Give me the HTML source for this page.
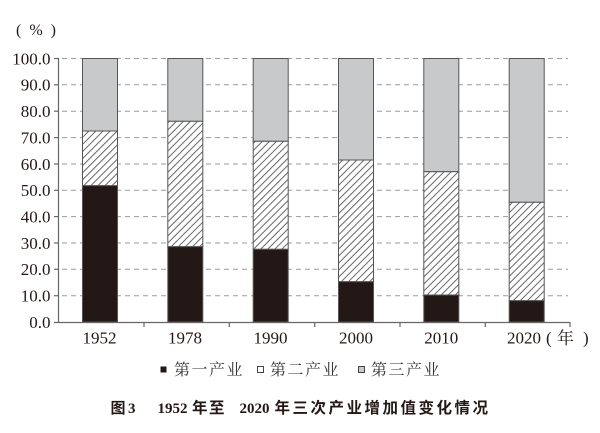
<!DOCTYPE html>
<html>
<head>
<meta charset="utf-8">
<style>
html,body{margin:0;padding:0;background:#fff;}
body{width:600px;height:433px;overflow:hidden;}
svg{display:block;}
</style>
</head>
<body>
<svg width="600" height="433" viewBox="0 0 600 433" xmlns="http://www.w3.org/2000/svg">
<defs>
<pattern id="hatch" patternUnits="userSpaceOnUse" width="5" height="10" patternTransform="rotate(45)">
<rect width="5" height="10" fill="#fff"/>
<line x1="0.5" y1="0" x2="0.5" y2="10" stroke="#555" stroke-width="0.9"/>
</pattern>
</defs>
<rect width="600" height="433" fill="#fff"/>

<!-- gridlines -->
<g stroke="#9a9a9a" stroke-width="1" stroke-dasharray="5,4" fill="none">
<line x1="62" y1="58.5" x2="568" y2="58.5"/>
<line x1="62" y1="84.8" x2="568" y2="84.8"/>
<line x1="62" y1="111.2" x2="568" y2="111.2"/>
<line x1="62" y1="137.6" x2="568" y2="137.6"/>
<line x1="62" y1="164" x2="568" y2="164"/>
<line x1="62" y1="190.3" x2="568" y2="190.3"/>
<line x1="62" y1="216.6" x2="568" y2="216.6"/>
<line x1="62" y1="243" x2="568" y2="243"/>
<line x1="62" y1="269.3" x2="568" y2="269.3"/>
<line x1="62" y1="295.7" x2="568" y2="295.7"/>
</g>

<!-- bars -->
<g stroke="#555" stroke-width="1">
<rect x="82.5" y="58.5" width="35" height="72.5" fill="#c8c9ca"/>
<rect x="82.5" y="131" width="35" height="54.7" fill="url(#hatch)"/>
<rect x="82.5" y="185.7" width="35" height="136.3" fill="#231815"/>
<rect x="167.8" y="58.5" width="35" height="62.8" fill="#c8c9ca"/>
<rect x="167.8" y="121.3" width="35" height="125.4" fill="url(#hatch)"/>
<rect x="167.8" y="246.7" width="35" height="75.3" fill="#231815"/>
<rect x="253.2" y="58.5" width="35" height="82.8" fill="#c8c9ca"/>
<rect x="253.2" y="141.3" width="35" height="108" fill="url(#hatch)"/>
<rect x="253.2" y="249.3" width="35" height="72.7" fill="#231815"/>
<rect x="338.5" y="58.5" width="35" height="101.5" fill="#c8c9ca"/>
<rect x="338.5" y="160" width="35" height="121.7" fill="url(#hatch)"/>
<rect x="338.5" y="281.7" width="35" height="40.3" fill="#231815"/>
<rect x="423.8" y="58.5" width="35" height="113.2" fill="#c8c9ca"/>
<rect x="423.8" y="171.7" width="35" height="123.3" fill="url(#hatch)"/>
<rect x="423.8" y="295" width="35" height="27" fill="#231815"/>
<rect x="509.2" y="58.5" width="35" height="143.8" fill="#c8c9ca"/>
<rect x="509.2" y="202.3" width="35" height="98.4" fill="url(#hatch)"/>
<rect x="509.2" y="300.7" width="35" height="21.3" fill="#231815"/>
</g>

<!-- axes -->
<g stroke="#666" stroke-width="1.2" fill="none">
<line x1="58.5" y1="58" x2="58.5" y2="322.5"/>
<line x1="54" y1="322.5" x2="570.5" y2="322.5"/>
<line x1="54" y1="58.5" x2="58.5" y2="58.5"/>
<line x1="54" y1="84.8" x2="58.5" y2="84.8"/>
<line x1="54" y1="111.2" x2="58.5" y2="111.2"/>
<line x1="54" y1="137.6" x2="58.5" y2="137.6"/>
<line x1="54" y1="164" x2="58.5" y2="164"/>
<line x1="54" y1="190.3" x2="58.5" y2="190.3"/>
<line x1="54" y1="216.6" x2="58.5" y2="216.6"/>
<line x1="54" y1="243" x2="58.5" y2="243"/>
<line x1="54" y1="269.3" x2="58.5" y2="269.3"/>
<line x1="54" y1="295.7" x2="58.5" y2="295.7"/>
<line x1="144" y1="322.5" x2="144" y2="327"/>
<line x1="229.3" y1="322.5" x2="229.3" y2="327"/>
<line x1="314.7" y1="322.5" x2="314.7" y2="327"/>
<line x1="400" y1="322.5" x2="400" y2="327"/>
<line x1="485.3" y1="322.5" x2="485.3" y2="327"/>
<line x1="570" y1="322.5" x2="570" y2="327"/>
</g>

<!-- y labels -->
<g font-family="'Liberation Serif', serif" font-size="17" fill="#231815" text-anchor="end">
<text x="50.5" y="64.3">100.0</text>
<text x="50.5" y="90.6">90.0</text>
<text x="50.5" y="117">80.0</text>
<text x="50.5" y="143.4">70.0</text>
<text x="50.5" y="169.8">60.0</text>
<text x="50.5" y="196.1">50.0</text>
<text x="50.5" y="222.4">40.0</text>
<text x="50.5" y="248.8">30.0</text>
<text x="50.5" y="275.1">20.0</text>
<text x="50.5" y="301.5">10.0</text>
<text x="50.5" y="327.8">0.0</text>
</g>
<text x="16" y="35" font-family="'Liberation Serif', serif" font-size="16" fill="#231815" xml:space="preserve">(  %  )</text>

<!-- x labels -->
<g font-family="'Liberation Serif', serif" font-size="17" fill="#231815" text-anchor="middle">
<text x="99.5" y="343.5">1952</text>
<text x="185" y="343.5">1978</text>
<text x="270.5" y="343.5">1990</text>
<text x="356" y="343.5">2000</text>
<text x="441.3" y="343.5">2010</text>
<text x="524" y="343.5">2020</text>
</g>
<text x="546" y="343.5" font-family="'Liberation Serif', serif" font-size="17" fill="#231815">(</text>
<text x="557" y="344" font-family="'Liberation Serif','Noto Serif CJK SC', serif" font-size="17" fill="#231815">年</text>
<text x="583" y="343.5" font-family="'Liberation Serif', serif" font-size="17" fill="#231815">)</text>

<!-- legend -->
<rect x="160.5" y="366.5" width="6" height="6" fill="#231815"/>
<rect x="257.5" y="366.5" width="6" height="6" fill="#fff" stroke="#444" stroke-width="1"/>
<rect x="358.5" y="366.5" width="6" height="6" fill="#c8c9ca" stroke="#444" stroke-width="1"/>
<g font-family="'Liberation Serif','Noto Serif CJK SC', serif" font-size="16" fill="#333" letter-spacing="1.5">
<text x="174" y="375">第一产业</text>
<text x="270" y="375">第二产业</text>
<text x="371" y="375">第三产业</text>
</g>

<!-- caption -->
<g fill="#231815" font-weight="bold">
<text x="110.5" y="413" font-family="'Liberation Sans','Noto Sans CJK SC', sans-serif" font-size="15">图</text>
<text x="128" y="413" font-family="'Liberation Serif', serif" font-size="15">3</text>
<text x="157.5" y="413" font-family="'Liberation Serif', serif" font-size="15">1952</text>
<text x="192" y="413" font-family="'Liberation Sans','Noto Sans CJK SC', sans-serif" font-size="15.5" letter-spacing="1.5">年至</text>
<text x="239.5" y="413" font-family="'Liberation Serif', serif" font-size="15">2020</text>
<text x="274.5" y="413" font-family="'Liberation Sans','Noto Sans CJK SC', sans-serif" font-size="15.5" letter-spacing="2.5">年三次产业增加值变化情况</text>
</g>
</svg>
</body>
</html>
